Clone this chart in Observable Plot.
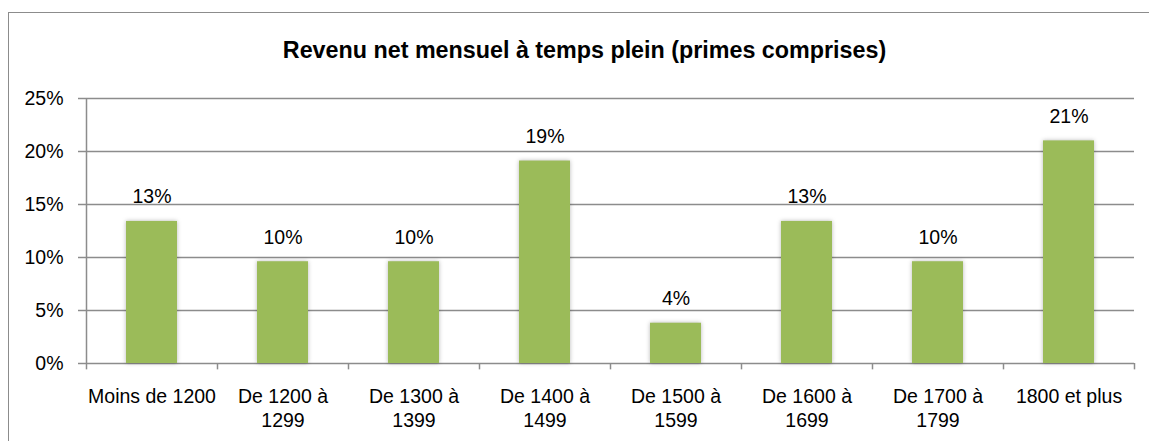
<!DOCTYPE html>
<html>
<head>
<meta charset="utf-8">
<script src="https://cdn.jsdelivr.net/npm/d3@7"></script>
<script src="https://cdn.jsdelivr.net/npm/@observablehq/plot@0.6"></script>
<style>
  html, body { margin: 0; padding: 0; background: #fff; }
  #wrap { position: relative; width: 1149px; height: 441px; overflow: hidden; }
  #border { position: absolute; left: 8px; top: 12px; width: 1200px; height: 500px;
            border: 1.5px solid #8c8c8c; box-sizing: border-box; }
  #chart { position: absolute; left: 0; top: 0; }
  #chart svg { font-family: "Liberation Sans", Arial, sans-serif; }
  #chart g[aria-label="bar"] rect { filter: drop-shadow(0px 0px 2px rgba(0,0,0,0.28)); }
</style>
</head>
<body>
<div id="wrap"><div id="border"></div><div id="chart"></div></div>
<script>
const title = "Revenu net mensuel à temps plein (primes comprises)";
const categories = ["Moins de 1200", "De 1200 à 1299", "De 1300 à 1399", "De 1400 à 1499",
                    "De 1500 à 1599", "De 1600 à 1699", "De 1700 à 1799", "1800 et plus"];
const categoryLabels = ["Moins de 1200", "De 1200 à\n1299", "De 1300 à\n1399", "De 1400 à\n1499",
                        "De 1500 à\n1599", "De 1600 à\n1699", "De 1700 à\n1799", "1800 et plus"];
const values = [13.4, 9.6, 9.6, 19.1, 3.8, 13.4, 9.6, 21.0];
const yTicks = [0, 5, 10, 15, 20, 25];

const data = categories.map((c, i) => ({category: c, label: categoryLabels[i], value: values[i]}));
const gridColor = "#8c8c8c";

const chart = Plot.plot({
  width: 1149,
  height: 441,
  marginLeft: 86,
  marginRight: 15,
  marginTop: 98,
  marginBottom: 78,
  style: {fontSize: "19.5px", color: "#000", background: "transparent"},
  x: {domain: categories, paddingInner: 0.61, paddingOuter: 0.305, axis: null},
  y: {domain: [0, 25], ticks: yTicks, axis: null},
  marks: [
    Plot.gridY(yTicks.filter(d => d > 0), {stroke: gridColor, strokeOpacity: 1, strokeWidth: 1.5}),
    Plot.axisY(yTicks, {tickSize: 8, tickPadding: 15, stroke: gridColor, strokeWidth: 1.5, label: null,
                        tickFormat: d => d + "%", fill: "#000", fontSize: 19.5}),
    Plot.ruleY([0], {stroke: gridColor, strokeWidth: 1.5}),
    Plot.ruleX([categories[0]], {x: d => d, y1: 0, y2: 25, dx: -65.5, stroke: gridColor, strokeWidth: 1.5}),
    Plot.ruleX(categories, {x: d => d, y1: 0, y2: -0.6, dx: -65.5, stroke: gridColor, strokeWidth: 1.5}),
    Plot.ruleX([categories[categories.length - 1]], {x: d => d, y1: 0, y2: -0.6, dx: 65.5, stroke: gridColor, strokeWidth: 1.5}),
    Plot.barY(data, {x: "category", y: "value", fill: "#9bbb59"}),
    Plot.text(data, {x: "category", y: "value", text: d => Math.round(d.value) + "%",
                     lineAnchor: "bottom", dy: -18, fill: "#000", fontSize: 19.5}),
    Plot.text(data, {x: "category", text: "label", frameAnchor: "bottom", lineAnchor: "top",
                     dy: 22, lineHeight: 1.23, fill: "#000", fontSize: 19.5}),
    Plot.text([title], {frameAnchor: "top", dy: -48, dx: -26, fontWeight: "bold",
                        fontSize: 23.3, fill: "#000", lineAnchor: "middle"})
  ]
});
document.getElementById("chart").appendChild(chart);
</script>
</body>
</html>
